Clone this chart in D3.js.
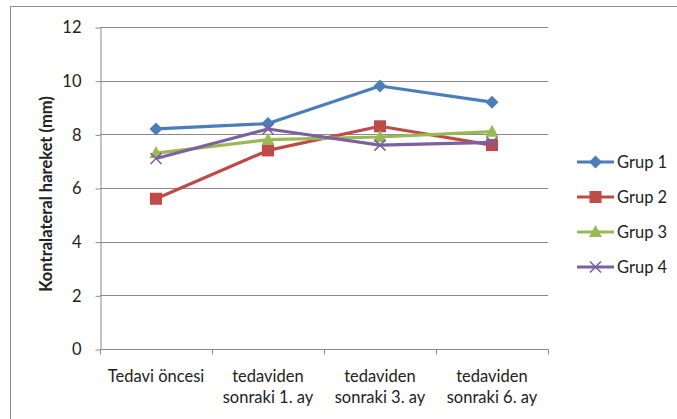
<!DOCTYPE html>
<html>
<head>
<meta charset="utf-8">
<script src="https://cdn.jsdelivr.net/npm/d3@7"></script>
<style>
  html, body { margin: 0; padding: 0; background: #fff; }
  svg { display: block; }
  text { font-family: Lato, "Open Sans", sans-serif; fill: #222; }
</style>
</head>
<body>
<svg id="chart" width="677" height="419"></svg>
<script>
// Follow-up periods
const categories = [
  ["Tedavi öncesi"],
  ["tedaviden", "sonraki 1. ay"],
  ["tedaviden", "sonraki 3. ay"],
  ["tedaviden", "sonraki 6. ay"]
];
const seriesNames = ["Grup 1", "Grup 2", "Grup 3", "Grup 4"];
const grup1 = [8.2, 8.4, 9.8, 9.2];
const grup2 = [5.6, 7.4, 8.3, 7.6];
const grup3 = [7.3, 7.8, 7.9, 8.1];
const grup4 = [7.1, 8.2, 7.6, 7.7];
const yTicks = [0, 2, 4, 6, 8, 10, 12];
const yTitle = "Kontralateral hareket (mm)";

const seriesValues = [grup1, grup2, grup3, grup4];
const colors = ["#4A7EBB", "#BE4B48", "#98B954", "#7D60A0"];
const markers = ["diamond", "square", "triangle", "cross"];

const svg = d3.select("#chart");

// outer chart frame
svg.append("rect")
  .attr("x", 10.5).attr("y", 6.5)
  .attr("width", 700).attr("height", 430)
  .attr("fill", "#fff").attr("stroke", "#8c8c8c").attr("stroke-width", 1);

const plot = { left: 100, right: 548, top: 27, bottom: 349 };

const x = d3.scaleBand()
  .domain(d3.range(categories.length))
  .range([plot.left, plot.right])
  .padding(0);

const y = d3.scaleLinear()
  .domain([0, 12])
  .range([plot.bottom, plot.top]);

// horizontal gridlines
svg.append("g")
  .selectAll("line")
  .data(yTicks.filter(t => t > 0))
  .join("line")
  .attr("x1", plot.left).attr("x2", plot.right)
  .attr("y1", d => Math.round(y(d)) + 0.5)
  .attr("y2", d => Math.round(y(d)) + 0.5)
  .attr("stroke", "#8a8a8a").attr("stroke-width", 1);

// y axis
const yAxis = svg.append("g")
  .attr("transform", `translate(${plot.left + 0.5},0.5)`)
  .call(d3.axisLeft(y).tickValues(yTicks).tickSize(5).tickPadding(14).tickSizeOuter(0));
yAxis.select(".domain").attr("stroke", "#8a8a8a");
yAxis.selectAll(".tick line").attr("stroke", "#8a8a8a");
yAxis.selectAll(".tick text")
  .attr("font-size", 16.5)
  .attr("font-family", "Lato, sans-serif")
  .attr("fill", "#222");

// x axis line with boundary ticks
const xAxisG = svg.append("g").attr("transform", `translate(0,${plot.bottom + 0.5})`);
xAxisG.append("line")
  .attr("x1", plot.left).attr("x2", plot.right)
  .attr("stroke", "#8a8a8a");
const boundaries = d3.range(categories.length + 1).map(i => plot.left + i * x.bandwidth());
xAxisG.selectAll("line.tk")
  .data(boundaries)
  .join("line")
  .attr("class", "tk")
  .attr("x1", d => Math.round(d) + 0.5).attr("x2", d => Math.round(d) + 0.5)
  .attr("y1", 0).attr("y2", 5)
  .attr("stroke", "#8a8a8a");

// category labels
const catLabels = svg.append("g")
  .selectAll("text")
  .data(categories)
  .join("text")
  .attr("text-anchor", "middle")
  .attr("font-size", 16.5)
  .attr("x", (d, i) => x(i) + x.bandwidth() / 2)
  .attr("y", 382);
catLabels.selectAll("tspan")
  .data(d => d)
  .join("tspan")
  .attr("x", function () { return d3.select(this.parentNode).attr("x"); })
  .attr("dy", (d, i) => i === 0 ? 0 : 21)
  .text(d => d);

// y axis title
svg.append("text")
  .attr("transform", `translate(52,${(plot.top + plot.bottom) / 2 + 6}) rotate(-90)`)
  .attr("text-anchor", "middle")
  .attr("font-size", 16.5)
  .attr("font-weight", "bold")
  .attr("fill", "#111")
  .text(yTitle);

function drawMarker(g, type, color, cx, cy) {
  if (type === "diamond") {
    g.append("path")
      .attr("d", `M${cx},${cy - 6.5}L${cx + 6.5},${cy}L${cx},${cy + 6.5}L${cx - 6.5},${cy}Z`)
      .attr("fill", color);
  } else if (type === "square") {
    g.append("rect")
      .attr("x", cx - 6).attr("y", cy - 6)
      .attr("width", 12).attr("height", 12)
      .attr("fill", color);
  } else if (type === "triangle") {
    g.append("path")
      .attr("d", `M${cx},${cy - 7}L${cx + 6.5},${cy + 5}L${cx - 6.5},${cy + 5}Z`)
      .attr("fill", color);
  } else {
    g.append("path")
      .attr("d", `M${cx - 5.5},${cy - 5.5}L${cx + 5.5},${cy + 5.5}M${cx - 5.5},${cy + 5.5}L${cx + 5.5},${cy - 5.5}`)
      .attr("stroke", color).attr("stroke-width", 1.6).attr("fill", "none");
  }
}

const line = d3.line()
  .x((d, i) => x(i) + x.bandwidth() / 2)
  .y(d => y(d));

seriesValues.forEach((vals, s) => {
  const g = svg.append("g");
  g.append("path")
    .datum(vals)
    .attr("d", line)
    .attr("fill", "none")
    .attr("stroke", colors[s])
    .attr("stroke-width", 3.2)
    .attr("stroke-linejoin", "round");
  vals.forEach((v, i) => drawMarker(g, markers[s], colors[s], x(i) + x.bandwidth() / 2, y(v)));
});

// legend
const legendY = [162, 197, 232, 267];
seriesNames.forEach((name, s) => {
  const g = svg.append("g");
  const ly = legendY[s];
  g.append("line")
    .attr("x1", 577).attr("x2", 614)
    .attr("y1", ly).attr("y2", ly)
    .attr("stroke", colors[s]).attr("stroke-width", 3.2);
  drawMarker(g, markers[s], colors[s], 595.5, ly);
  g.append("text")
    .attr("x", 617).attr("y", ly + 6)
    .attr("font-size", 16.5)
    .text(name);
});
</script>
</body>
</html>
